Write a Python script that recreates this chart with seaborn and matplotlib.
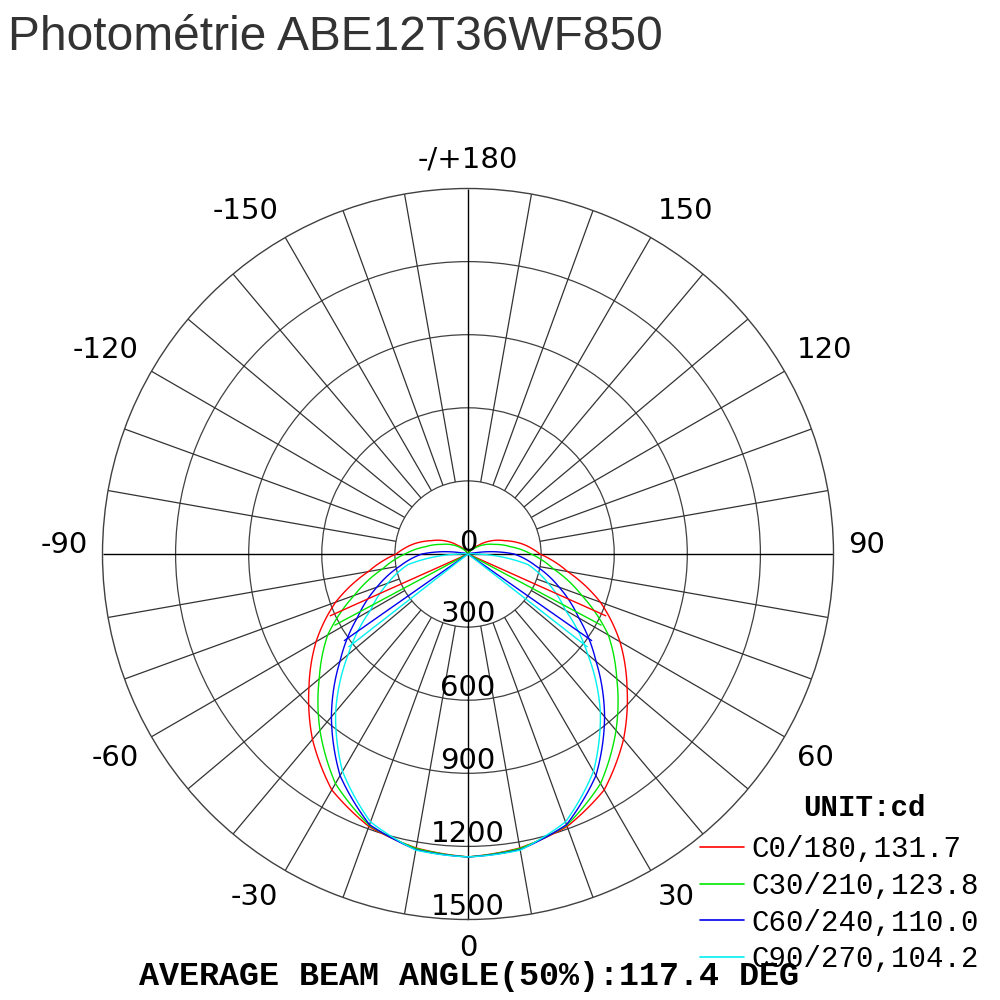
import numpy as np
import pandas as pd
import matplotlib.pyplot as plt
import seaborn as sns

# gamma angles (deg) and intensities (cd) for each C-plane
gamma = [0, 10, 20, 30, 40, 50, 60, 70, 80, 90, 100, 110, 120, 130, 140, 150, 160, 170, 180]
c0_180 = [1243, 1225, 1190, 1118, 993, 852, 720, 578, 415, 295, 230, 160, 108, 55, 25, 8, 0, 0, 0]
c30_210 = [1243, 1227, 1185, 1088, 945, 797, 665, 497, 357, 259, 175, 115, 75, 40, 16, 4, 0, 0, 0]
c60_240 = [1243, 1232, 1182, 1050, 872, 686, 525, 398, 283, 189, 25, 0, 0, 0, 0, 0, 0, 0, 0]
c90_270 = [1243, 1234, 1170, 1030, 845, 642, 462, 350, 250, 30, 0, 0, 0, 0, 0, 0, 0, 0, 0]

planes = ['C0/180', 'C30/210', 'C60/240', 'C90/270']
beam_angles = [131.7, 123.8, 110.0, 104.2]
colors = ['#ff0000', '#00e600', '#0000f0', '#00f0f0']

ring_values = [300, 600, 900, 1200, 1500]
angle_ticks = [0, 30, 60, 90, 120, 150, 180, -150, -120, -90, -60, -30]
angle_labels = ['0', '30', '60', '90', '120', '150', '-/+180', '-150', '-120', '-90', '-60', '-30']

# long table, each plane mirrored to cover -180..180
g = np.array(gamma)
rows = []
for name, vals in zip(planes, [c0_180, c30_210, c60_240, c90_270]):
    v = np.array(vals)
    ang = np.concatenate([-g[::-1], g[1:]])
    cd = np.concatenate([v[::-1], v[1:]])
    rows.append(pd.DataFrame({'theta': np.deg2rad(ang), 'cd': cd, 'plane': name}))
df = pd.concat(rows, ignore_index=True)

sns.set_style('white')
plt.rcParams['font.family'] = ['DejaVu Sans']
plt.rcParams['text.color'] = 'black'

fig = plt.figure(figsize=(10, 10), dpi=100)
ax = fig.add_axes([0.1025, 0.0805, 0.731, 0.731], projection='polar')
ax.set_theta_zero_location('S')
ax.set_theta_direction(1)

# grid: rings + spokes every 10 deg
ax.set_xticks([])
ax.set_yticks(ring_values[:-1])
ax.set_yticklabels([])
ax.yaxis.grid(True, color='#404040', linewidth=0.9)
spokes = [a for a in range(0, 360, 10) if a % 90 != 0]
ax.vlines(np.deg2rad(spokes), ring_values[0], ring_values[-1], color='#333333', linewidth=0.9, zorder=1)
ax.vlines(np.deg2rad([0, 90, 180, 270]), 0, ring_values[-1], color='black', linewidth=1.0, zorder=1)
ax.spines['polar'].set_color('#404040')
ax.spines['polar'].set_linewidth(1.0)

sns.lineplot(data=df, x='theta', y='cd', hue='plane', palette=colors, sort=False,
             estimator=None, linewidth=1.0, legend=False, ax=ax, zorder=2)
# let the polar transform draw the segments as arcs/spirals instead of chords
for ln in ax.lines:
    ln.get_path()._interpolation_steps = 25

# 50% beam lines
for name, vals, ba, col in zip(planes, [c0_180, c30_210, c60_240, c90_270], beam_angles, colors):
    half = np.deg2rad(ba / 2)
    ax.vlines([-half, half], 0, max(vals) / 2, color=col, linewidth=1.0, zorder=2)

ax.set_ylim(0, 1500)
ax.set_xlabel('')
ax.set_ylabel('')

# radial labels down the 0 line
ax.text(np.pi, 45, '0', ha='center', va='center', fontsize=21, zorder=5)
for r in ring_values:
    ax.text(0, r - 52, str(r), ha='center', va='center', fontsize=21, zorder=5)

# angle labels outside the circle (pixel offsets from the centre, axes is 731 px wide)
for a, lab in zip(angle_ticks, angle_labels):
    t = np.deg2rad(a)
    s, c = np.sin(t), np.cos(t)
    ha = 'left' if s > 0.01 else ('right' if s < -0.01 else 'center')
    dy = 380 * c + 14 * np.sign(c) if abs(c) > 0.01 else -9
    ax.text(0.5 + 380 * s / 731, 0.5 - dy / 731, lab, transform=ax.transAxes,
            ha=ha, va='center', fontsize=21, clip_on=False)

fig.text(0.008, 1 - 0.037, 'Photométrie ABE12T36WF850', ha='left', va='center',
         fontsize=34.5, color='#333333', family='Liberation Sans')

fig.text(0.803, 1 - 0.808, 'UNIT:cd', ha='left', va='center', fontsize=21,
         family='Liberation Mono', weight='bold')

handles = [plt.Line2D([], [], color=c, linewidth=1.2) for c in colors]
labels = [f'{p},{b:.1f}' for p, b in zip(planes, beam_angles)]
fig.legend(handles, labels, loc='upper left', bbox_to_anchor=(0.700, 1 - 0.835),
           frameon=False, prop={'family': 'Liberation Mono', 'size': 21},
           handlelength=1.5, handletextpad=0.25, labelspacing=0.3,
           borderpad=0, borderaxespad=0)

fig.text(0.469, 1 - 0.977, 'AVERAGE BEAM ANGLE(50%):117.4 DEG', ha='center', va='center',
         fontsize=24, family='Liberation Mono', weight='bold')

fig.savefig('out.png', dpi=100, facecolor='white')
